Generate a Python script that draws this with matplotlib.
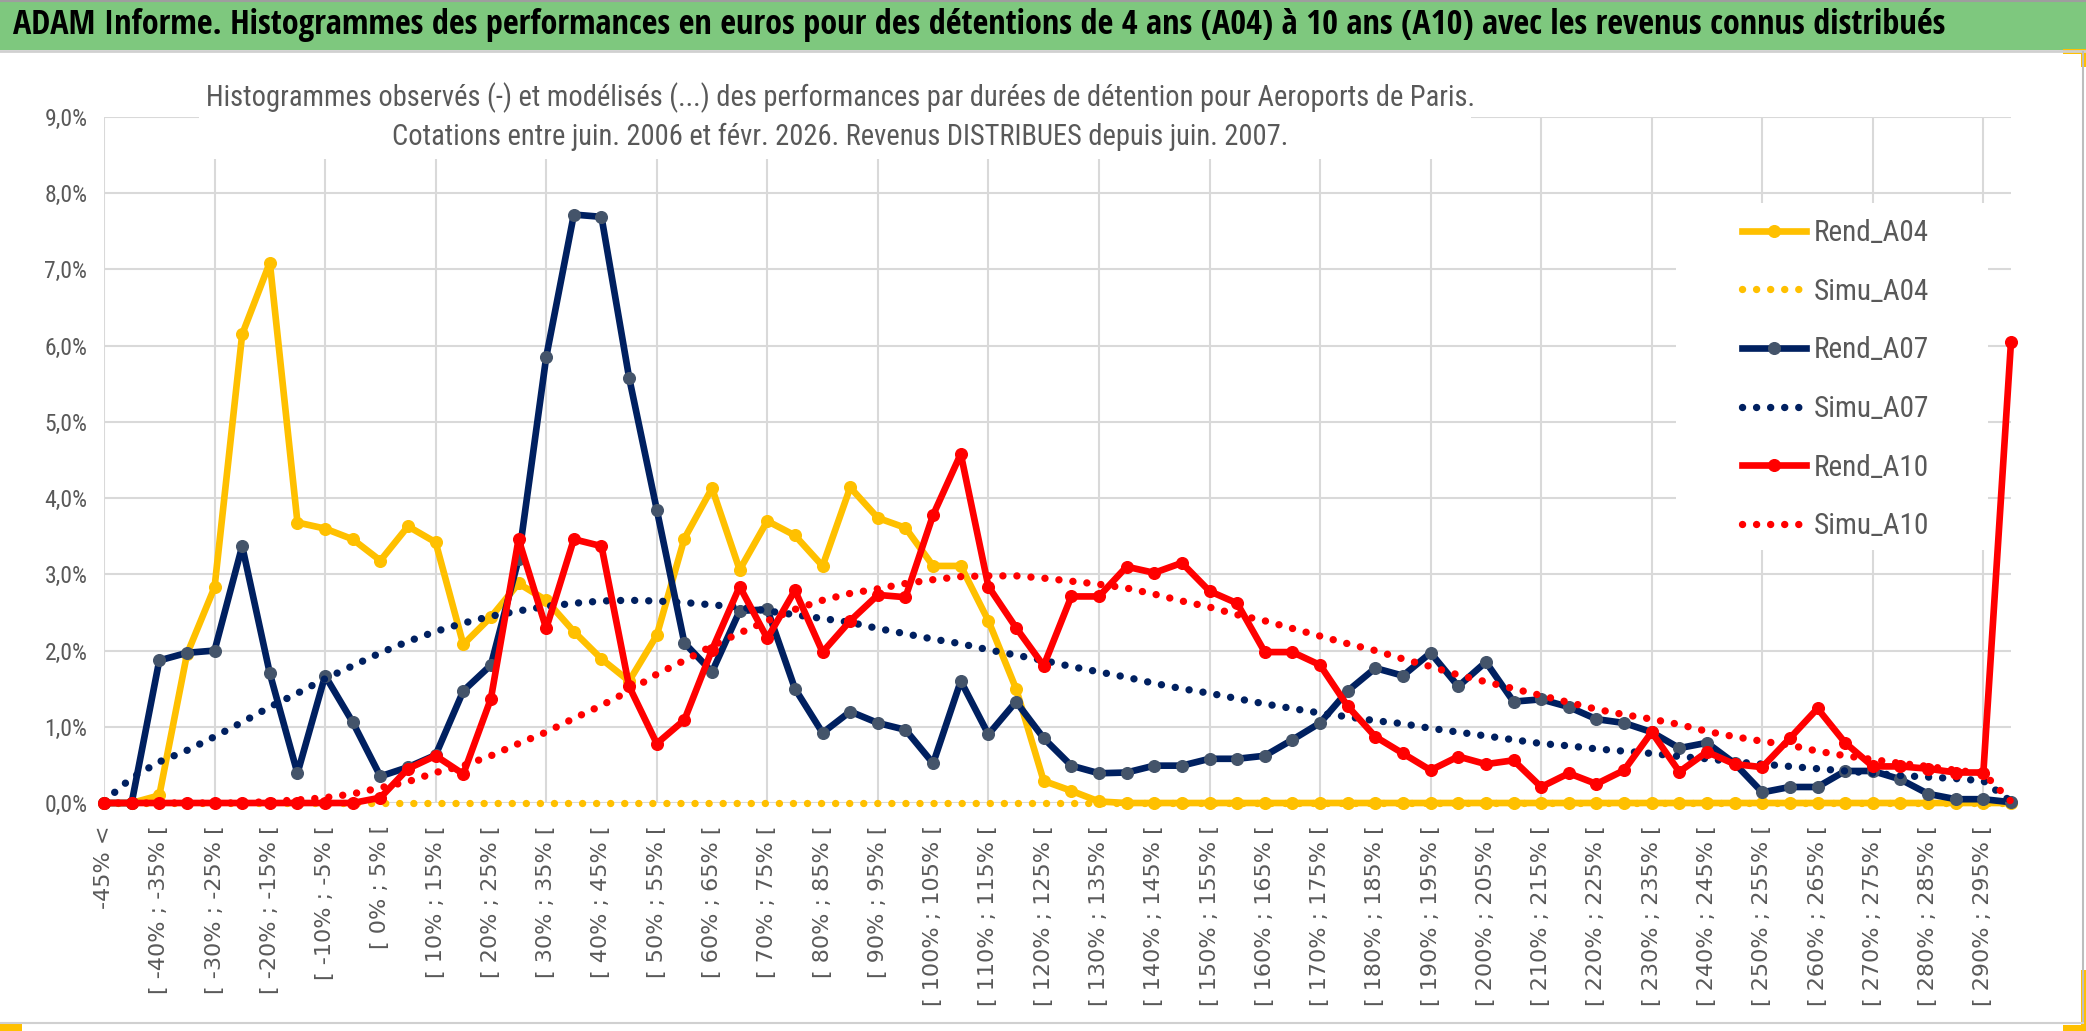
import matplotlib
matplotlib.use("Agg")
import matplotlib.pyplot as plt
from matplotlib import font_manager
from matplotlib.font_manager import FontProperties
from matplotlib.patches import Rectangle
from matplotlib.lines import Line2D

ETROITES = ["Liberation Sans Narrow", "Open Sans Condensed", "Roboto Condensed", "Lato"]


# police étroite proche de Calibri : famille étroite d'abord si le poids est proche
def police(poids, taille):
    best = None
    for f in font_manager.fontManager.ttflist:
        rang = next((i for i, n in enumerate(ETROITES) if f.name.startswith(n)), None)
        if rang is None or f.style != "normal":
            continue
        w = f.weight if isinstance(f.weight, int) else font_manager.weight_dict.get(f.weight, 400)
        score = (abs(w - poids) > 100, rang, abs(w - poids))
        if best is None or score < best[0]:
            best = (score, f.fname)
    if best is None:
        return FontProperties(family="DejaVu Sans", weight=poids, size=taille)
    return FontProperties(fname=best[1], size=taille)


# --- données (en %) ---
bornes = list(range(-45, 300, 5))
categories = ["-45% <"] + [f"[ {a}% ; {a + 5}% [" for a in bornes]

rend_a04 = [0.00, 0.00, 0.10, 1.95, 2.83, 6.15, 7.09, 3.68, 3.60, 3.46,
            3.18, 3.63, 3.42, 2.08, 2.44, 2.88, 2.66, 2.25, 1.89, 1.60,
            2.20, 3.47, 4.13, 3.06, 3.70, 3.51, 3.11, 4.14, 3.74, 3.61,
            3.11, 3.11, 2.39, 1.50, 0.29, 0.16, 0.02, 0.00, 0.00, 0.00,
            0.00, 0.00, 0.00, 0.00, 0.00, 0.00, 0.00, 0.00, 0.00, 0.00,
            0.00, 0.00, 0.00, 0.00, 0.00, 0.00, 0.00, 0.00, 0.00, 0.00,
            0.00, 0.00, 0.00, 0.00, 0.00, 0.00, 0.00, 0.00, 0.00, 0.00]
simu_a04 = [0.0] * 70
rend_a07 = [0.00, 0.00, 1.87, 1.97, 2.00, 3.37, 1.70, 0.39, 1.67, 1.06,
            0.35, 0.47, 0.63, 1.47, 1.81, 3.20, 5.85, 7.72, 7.69, 5.58,
            3.85, 2.10, 1.72, 2.52, 2.54, 1.50, 0.92, 1.20, 1.05, 0.96,
            0.52, 1.60, 0.90, 1.33, 0.85, 0.49, 0.39, 0.40, 0.49, 0.49,
            0.58, 0.58, 0.62, 0.83, 1.05, 1.47, 1.77, 1.67, 1.97, 1.53,
            1.85, 1.33, 1.36, 1.26, 1.10, 1.05, 0.93, 0.72, 0.79, 0.52,
            0.14, 0.21, 0.21, 0.42, 0.42, 0.31, 0.12, 0.05, 0.05, 0.01]
simu_a07 = [0.02, 0.33, 0.54, 0.69, 0.87, 1.06, 1.26, 1.44, 1.63, 1.80,
            1.97, 2.12, 2.25, 2.36, 2.45, 2.52, 2.58, 2.62, 2.65, 2.66,
            2.65, 2.63, 2.60, 2.57, 2.52, 2.47, 2.42, 2.37, 2.29, 2.22,
            2.15, 2.09, 2.01, 1.94, 1.87, 1.79, 1.72, 1.65, 1.57, 1.50,
            1.44, 1.37, 1.30, 1.24, 1.18, 1.13, 1.08, 1.04, 0.98, 0.93,
            0.88, 0.83, 0.78, 0.75, 0.71, 0.68, 0.65, 0.61, 0.58, 0.54,
            0.51, 0.48, 0.45, 0.42, 0.39, 0.36, 0.34, 0.32, 0.29, 0.02]
rend_a10 = [0.00, 0.00, 0.00, 0.00, 0.00, 0.00, 0.00, 0.00, 0.00, 0.00,
            0.07, 0.45, 0.62, 0.38, 1.37, 3.46, 2.29, 3.46, 3.37, 1.53,
            0.78, 1.09, 2.01, 2.84, 2.16, 2.79, 1.98, 2.39, 2.73, 2.70,
            3.78, 4.58, 2.84, 2.30, 1.80, 2.71, 2.71, 3.10, 3.02, 3.15,
            2.78, 2.62, 1.98, 1.98, 1.81, 1.27, 0.87, 0.65, 0.43, 0.61,
            0.51, 0.56, 0.21, 0.39, 0.25, 0.43, 0.93, 0.41, 0.67, 0.51,
            0.47, 0.85, 1.24, 0.79, 0.48, 0.48, 0.45, 0.40, 0.40, 6.05]
simu_a10 = [0.00, 0.00, 0.00, 0.00, 0.00, 0.00, 0.02, 0.04, 0.07, 0.12,
            0.20, 0.28, 0.40, 0.49, 0.62, 0.78, 0.93, 1.11, 1.28, 1.47,
            1.69, 1.87, 2.06, 2.23, 2.39, 2.54, 2.66, 2.75, 2.81, 2.88,
            2.93, 2.97, 2.98, 2.98, 2.95, 2.91, 2.87, 2.82, 2.74, 2.65,
            2.57, 2.47, 2.39, 2.29, 2.19, 2.09, 2.00, 1.89, 1.79, 1.68,
            1.59, 1.50, 1.41, 1.32, 1.23, 1.16, 1.10, 1.03, 0.94, 0.87,
            0.81, 0.76, 0.68, 0.62, 0.57, 0.52, 0.48, 0.43, 0.39, 0.02]

titre = ("ADAM Informe. Histogrammes des performances en euros pour des détentions "
         "de 4 ans (A04) à 10 ans (A10) avec les revenus connus distribués")
sous_titre = ("Histogrammes observés (-) et modélisés (...) des performances par durées de détention pour Aeroports de Paris.\n"
              "Cotations entre juin. 2006 et févr. 2026. Revenus DISTRIBUES depuis juin. 2007.")

JAUNE, MARINE, ROUGE, GRIS_TXT, GRILLE = "#FFC000", "#002060", "#FF0000", "#595959", "#D9D9D9"

W, H = 2086, 1031
fig = plt.figure(figsize=(W / 100, H / 100), dpi=100)
fx = lambda px: px / W
fy = lambda py: 1 - py / H

# bandeau vert + cadre
fig.add_artist(Rectangle((0, fy(50)), 1, 1 - fy(50), transform=fig.transFigure,
                         facecolor="#7EC87E", edgecolor="none"))
fig.add_artist(Line2D([0, 1], [fy(51), fy(51)], color="#D0D0D0", lw=2))
fig.add_artist(Line2D([0, 1], [fy(1), fy(1)], color="#9E9E9E", lw=1.5))
fig.add_artist(Line2D([fx(2083), fx(2083)], [fy(52), fy(1023)], color="#BDBDBD", lw=1.5))
fig.add_artist(Line2D([0, fx(2083)], [fy(1023), fy(1023)], color="#D0D0D0", lw=1.5))
for (x0, y0, w, h) in [(2063, 49, 23, 5), (2081, 49, 5, 18), (2081, 970, 5, 61),
                       (2063, 1025, 23, 6), (0, 1024, 22, 7)]:
    fig.add_artist(Rectangle((fx(x0), fy(y0 + h)), w / W, h / H, transform=fig.transFigure,
                             facecolor=JAUNE, edgecolor="none"))

t_titre = fig.text(fx(13), fy(25), titre, color="black", ha="left", va="center",
                   fontproperties=police(700, 22))

ax = fig.add_axes([fx(104), fy(803), (2011 - 104) / W, (803 - 117) / H])
ax.set_axisbelow(True)

x = list(range(len(categories)))
plein = dict(lw=4.8, marker="o", ms=8.4, clip_on=False, solid_joinstyle="round")
pointille = dict(lw=5.3, linestyle=(0, (0.01, 1.9)), dash_capstyle="round", clip_on=False)

ax.plot(x, rend_a04, color=JAUNE, mfc=JAUNE, mec=JAUNE, label="Rend_A04", **plein)
ax.plot(x, simu_a04, color=JAUNE, label="Simu_A04", **pointille)
ax.plot(x, rend_a07, color=MARINE, mfc="#44546A", mec="#44546A", label="Rend_A07", **plein)
ax.plot(x, simu_a07, color=MARINE, label="Simu_A07", **pointille)
ax.plot(x, rend_a10, color=ROUGE, mfc=ROUGE, mec=ROUGE, label="Rend_A10", **plein)
ax.plot(x, simu_a10, color=ROUGE, label="Simu_A10", **pointille)

ax.set_xlim(0, len(categories) - 1)
ax.set_ylim(0, 9)
ax.set_yticks(range(0, 10))
ax.set_yticklabels([f"{v:.1f}%".replace(".", ",") for v in range(0, 10)],
                   fontproperties=police(400, 17), color=GRIS_TXT)
# étiquettes une catégorie sur deux, quadrillage vertical toutes les quatre
ax.xaxis.remove_overlapping_locs = False
ax.set_xticks(range(0, len(categories), 2))
ax.set_xticklabels(categories[::2], rotation=90, fontsize=16,
                   color=GRIS_TXT, family="DejaVu Sans", va="top", ha="center")
ax.set_xticks(range(0, len(categories), 4), minor=True)
ax.tick_params(axis="both", which="both", length=0)
ax.tick_params(axis="y", pad=12)
ax.tick_params(axis="x", pad=16)
ax.grid(False, which="major", axis="x")
ax.grid(True, which="minor", axis="x", color=GRILLE, lw=1.5)
ax.grid(True, which="major", axis="y", color=GRILLE, lw=1.5)
for s in ax.spines.values():
    s.set_visible(False)

# caches blancs (zone du sous-titre et de la légende)
ax.add_patch(Rectangle((fx(199), fy(159)), (1471 - 199) / W, (159 - 105) / H,
                       transform=fig.transFigure, facecolor="white", edgecolor="none",
                       zorder=1, clip_on=False))
ax.add_patch(Rectangle((fx(1676), fy(550)), (1988 - 1676) / W, (550 - 203) / H,
                       transform=fig.transFigure, facecolor="white", edgecolor="none",
                       zorder=1, clip_on=False))

t_sous = fig.text(fx(840), fy(117), sous_titre, color=GRIS_TXT, ha="center", va="center",
                  linespacing=1.45, fontproperties=police(400, 20))

leg = ax.legend(loc="upper left", bbox_to_anchor=(fx(1742), fy(219)),
                bbox_transform=fig.transFigure, frameon=False, borderpad=0, borderaxespad=0,
                handlelength=2.2, handletextpad=0.25, labelspacing=1.05, numpoints=1,
                prop=police(400, 21), labelcolor=GRIS_TXT)

# ajustement des largeurs de texte
fig.canvas.draw()
rend = fig.canvas.get_renderer()
for t, cible in [(t_titre, 1929), (t_sous, 1268)]:
    w = t.get_window_extent(rend).width
    t.set_fontsize(t.get_fontsize() * cible / w)

fig.savefig("out.png", dpi=100, facecolor="white")
